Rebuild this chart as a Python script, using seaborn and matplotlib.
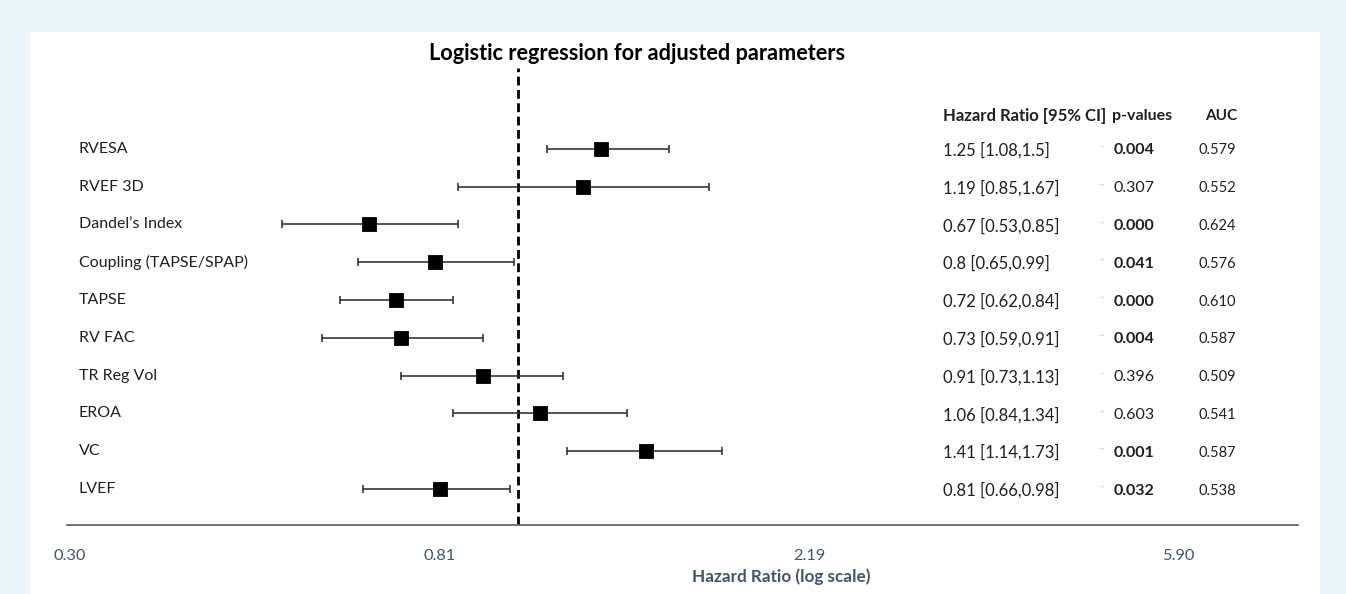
import numpy as np
import matplotlib
matplotlib.use("Agg")
import matplotlib.pyplot as plt
import matplotlib.transforms as mtransforms
from matplotlib.patches import Rectangle
import seaborn as sns

# Forest plot data
labels = ["RVESA", "RVEF 3D", "Dandel\u2019s Index", "Coupling (TAPSE/SPAP)", "TAPSE",
          "RV FAC", "TR Reg Vol", "EROA", "VC", "LVEF"]
hr = [1.25, 1.19, 0.67, 0.8, 0.72, 0.73, 0.91, 1.06, 1.41, 0.81]
ci_low = [1.08, 0.85, 0.53, 0.65, 0.62, 0.59, 0.73, 0.84, 1.14, 0.66]
ci_high = [1.5, 1.67, 0.85, 0.99, 0.84, 0.91, 1.13, 1.34, 1.73, 0.98]
p_values = ["0.004", "0.307", "0.000", "0.041", "0.000", "0.004", "0.396", "0.603", "0.001", "0.032"]
auc = ["0.579", "0.552", "0.624", "0.576", "0.610", "0.587", "0.509", "0.541", "0.587", "0.538"]

tick_vals = [0.30, 0.81, 2.19, 5.90]
tick_labels = ["0.30", "0.81", "2.19", "5.90"]

sns.set_style("white")
plt.rcParams['font.family'] = ['Lato', 'DejaVu Sans']

text_col = "#1f1f1f"
axis_col = "#44546a"

fig = plt.figure(figsize=(13.46, 5.94), dpi=100)
fig.patch.set_facecolor("#eaf5f8")
# white panel behind everything
panel = Rectangle((30 / 1346, 0), 1290 / 1346, 1 - 32 / 594,
                  transform=fig.transFigure, facecolor="white",
                  edgecolor="none", zorder=-10)
fig.patches.append(panel)

ax = fig.add_axes([67 / 1346, 1 - 525 / 594, 1231 / 1346, (525 - 68) / 594])
ax.set_facecolor("none")
ax.set_zorder(5)

ypos = np.arange(len(labels))
hr_a = np.array(hr)
xerr = [hr_a - np.array(ci_low), np.array(ci_high) - hr_a]

ax.errorbar(hr, ypos, xerr=xerr, fmt="none", ecolor="#262626", elinewidth=1.1,
            capsize=2.6, capthick=1.1, zorder=2)
sns.scatterplot(x=hr, y=ypos, marker="s", s=100, color="black", edgecolor="black",
                linewidth=0.6, ax=ax, zorder=3, legend=False)

ax.axvline(1.0, color="black", linestyle=(0, (3.2, 1.6)), linewidth=2.0, zorder=1)

ax.set_xscale("log")
ax.set_xlim(0.2975, 8.14)
ax.set_ylim(9.95, -2.14)
ax.set_yticks([])
ax.set_xticks(tick_vals)
ax.set_xticklabels(tick_labels)
ax.minorticks_off()
ax.tick_params(axis="x", length=0, pad=17.5, labelsize=11.8, labelcolor=axis_col)

for side in ["left", "top", "right"]:
    ax.spines[side].set_visible(False)
ax.spines["bottom"].set_color("#595959")
ax.spines["bottom"].set_linewidth(1.2)

# x axis title sits right of the axis centre in the original
fig.text(781 / 1346, 1 - 577 / 594, "Hazard Ratio (log scale)", ha="center", va="center",
         fontsize=12.3, fontweight="bold", color=axis_col)

# table text in axes-x / data-y coordinates
trans = mtransforms.blended_transform_factory(ax.transAxes, ax.transData)
def fx(px):
    return (px - 67) / 1231

for i, lab in enumerate(labels):
    ax.text(fx(79), i, lab, transform=trans, ha="left", va="center", fontsize=11.5, color=text_col)
    ax.text(fx(943), i + 0.04, f"{hr[i]:g} [{ci_low[i]:g},{ci_high[i]:g}]", transform=trans,
            ha="left", va="center", fontsize=12, color=text_col)
    ax.text(fx(1099), i - 0.06, "-", transform=trans, ha="left", va="center",
            fontsize=8, color="#f4b183")
    bold = float(p_values[i]) < 0.05
    ax.text(fx(1114), i + 0.04, p_values[i], transform=trans, ha="left", va="center", fontsize=11.5,
            color=text_col, fontweight="bold" if bold else "normal")
    ax.text(fx(1217), i + 0.04, auc[i], transform=trans, ha="center", va="center", fontsize=10.5,
            color=text_col)

hy = -0.88
ax.text(fx(943), hy, "Hazard Ratio [95% CI]", transform=trans, ha="left", va="center",
        fontsize=12, fontweight="bold", color=text_col)
ax.text(fx(1112), hy, "p-values", transform=trans, ha="left", va="center",
        fontsize=11.5, fontweight="bold", color=text_col)
ax.text(fx(1221), hy, "AUC", transform=trans, ha="center", va="center",
        fontsize=11, fontweight="bold", color=text_col)

fig.text(637.5 / 1346, 1 - 53 / 594, "Logistic regression for adjusted parameters",
         ha="center", va="center", fontsize=15.6, fontweight="bold", color="black")

fig.savefig("out.png", dpi=100, facecolor=fig.get_facecolor())
